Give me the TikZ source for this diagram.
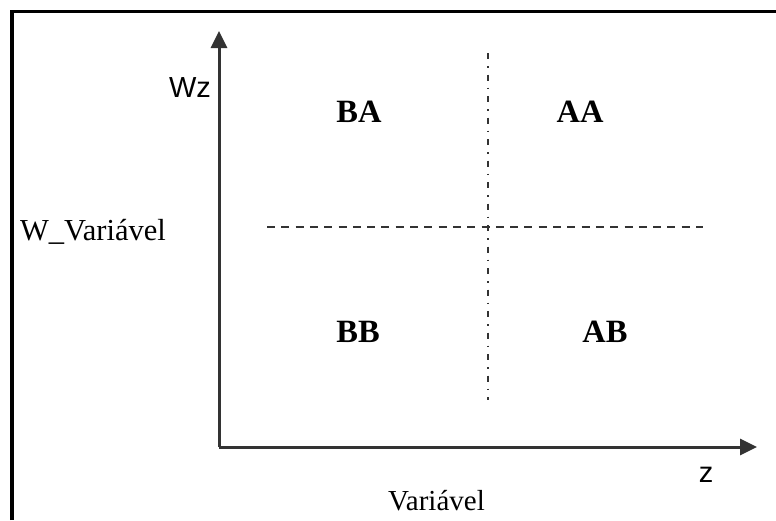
\documentclass[tikz,border=0pt]{standalone}
\usepackage{fontspec}
\setmainfont{Liberation Serif}
\newfontfamily\axisfont{Liberation Sans}
\usetikzlibrary{arrows.meta}
\definecolor{linegray}{HTML}{333333}
\tikzset{
  axisline/.style={draw=linegray, line width=3pt,
    -{Triangle[length=17pt,width=16pt]}},
  splitdash/.style={draw=linegray, line width=2.4pt, dash pattern=on 8pt off 6.3pt},
  splitdashdot/.style={draw=linegray, line width=2.4pt,
    dash pattern=on 6pt off 7pt on 1.5pt off 7pt},
  quadlabel/.style={font=\fontsize{32.5}{38}\selectfont\bfseries, anchor=base, inner sep=0pt},
  seriflabel/.style={font=\fontsize{29}{34}\selectfont, anchor=base west, inner sep=0pt},
  sanslabel/.style={font=\axisfont\fontsize{29}{34}\selectfont, anchor=base, inner sep=0pt},
}
\begin{document}
\begin{tikzpicture}[x=1pt, y=-1pt]
  \useasboundingbox (0,0) rectangle (776,520);
  % outer frame (top and left edges)
  \draw[line width=3.2pt, black] (12,520) -- (12,11.5) -- (776,11.5);

  % axes
  \coordinate (O) at (219,447);
  \coordinate (ytip) at (219,31);
  \coordinate (xtip) at (757,447);
  \draw[axisline] (O) -- (ytip);
  \draw[axisline] (O) -- (xtip);

  % quadrant dividers
  \coordinate (hl) at (267,227);
  \coordinate (hr) at (703,227);
  \coordinate (vt) at (488,53);
  \coordinate (vb) at (488,400);
  \draw[splitdash] (hl) -- (hr);
  \draw[splitdashdot] (vt) -- (vb);

  % quadrant labels
  \node[quadlabel] (BA) at (359,122) {BA};
  \node[quadlabel] (AA) at (580,122) {AA};
  \node[quadlabel] (BB) at (358,342) {BB};
  \node[quadlabel] (AB) at (605,342) {AB};

  % axis labels
  \node[sanslabel] (wz) at (190,97) {Wz};
  \node[sanslabel] (zl) at (706,482) {z};
  \node[seriflabel, font=\fontsize{30.5}{36}\selectfont] (wvar) at (20,240) {W\_Variável};
  \node[seriflabel] (var) at (388,510) {Variável};
\end{tikzpicture}
\end{document}
